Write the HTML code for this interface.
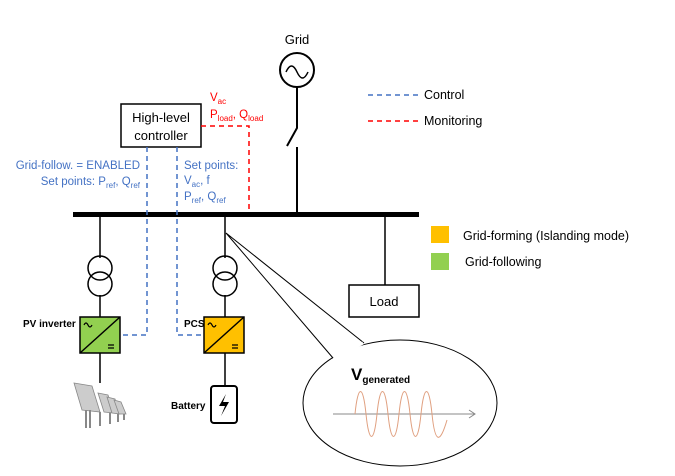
<!DOCTYPE html>
<html><head><meta charset="utf-8"><style>body{margin:0;background:#fff}svg{display:block;font-family:"Liberation Sans",sans-serif}</style></head><body>
<svg width="675" height="476" viewBox="0 0 675 476" xmlns="http://www.w3.org/2000/svg">
<text x="297" y="44" font-size="13" text-anchor="middle">Grid</text>
<circle cx="297" cy="70" r="17" fill="none" stroke="#000" stroke-width="2"/>
<path d="M286 72 q5.5 -12 11 0 t11 0" fill="none" stroke="#000" stroke-width="1.5"/>
<path d="M297 87 V128 L287 146 M297 147 V214" stroke="#000" stroke-width="2" fill="none"/>
<rect x="73" y="212" width="346" height="5" fill="#000"/>
<rect x="121" y="104" width="80" height="43" fill="#fff" stroke="#000" stroke-width="1.5"/>
<text x="161" y="122" font-size="13" text-anchor="middle">High-level</text>
<text x="161" y="140" font-size="13" text-anchor="middle">controller</text>
<g stroke="#4472c4" stroke-width="1.5" stroke-dasharray="5,4" fill="none">
<path d="M147 147 V335 H120"/><path d="M177 147 V335 H204"/>
<path d="M368 95 H419"/></g>
<g stroke="#ff0000" stroke-width="1.5" stroke-dasharray="5,4" fill="none">
<path d="M201 126 H249 V212"/><path d="M368 121 H419"/></g>
<g fill="#ff0000" font-size="11.5"><text x="210" y="101">V<tspan font-size="8" dy="3">ac</tspan></text>
<text x="210" y="118">P<tspan font-size="8" dy="3">load</tspan><tspan dy="-3">, Q</tspan><tspan font-size="8" dy="3">load</tspan></text></g>
<g fill="#4472c4" font-size="11.5"><text x="140" y="169" text-anchor="end">Grid-follow. = ENABLED</text>
<text x="140" y="185" text-anchor="end">Set points: P<tspan font-size="8" dy="3">ref</tspan><tspan dy="-3">, Q</tspan><tspan font-size="8" dy="3">ref</tspan></text>
<text x="184" y="169">Set points:</text>
<text x="184" y="184">V<tspan font-size="8" dy="3">ac</tspan><tspan dy="-3">, f</tspan></text>
<text x="184" y="200">P<tspan font-size="8" dy="3">ref</tspan><tspan dy="-3">, Q</tspan><tspan font-size="8" dy="3">ref</tspan></text></g>
<text x="424" y="99" font-size="12.5">Control</text>
<text x="424" y="125" font-size="12.5">Monitoring</text>
<rect x="431" y="226" width="18" height="17" fill="#ffc000"/>
<text x="463" y="240" font-size="12.5">Grid-forming (Islanding mode)</text>
<rect x="431" y="253" width="18" height="17" fill="#92d050"/>
<text x="465" y="266" font-size="12.5">Grid-following</text>
<g stroke="#000" stroke-width="1.5" fill="none">
<path d="M100 217 V258 M100 295 V317 M100 353 V383"/>
<circle cx="100" cy="268" r="12"/><circle cx="100" cy="284" r="12"/>
<path d="M225 217 V258 M225 295 V317 M225 353 V385"/>
<circle cx="225" cy="268" r="12"/><circle cx="225" cy="284" r="12"/>
<path d="M385 217 V285"/>
</g>
<rect x="80" y="317" width="40" height="36" fill="#92d050" stroke="#000" stroke-width="1.5"/>
<path d="M80 353 L120 317" stroke="#000" stroke-width="1.5"/>
<rect x="204" y="317" width="40" height="36" fill="#ffc000" stroke="#000" stroke-width="1.5"/>
<path d="M204 353 L244 317" stroke="#000" stroke-width="1.5"/>
<g stroke="#000" stroke-width="1.2" fill="none">
<path d="M84 325 q2 -4 4 0 t4 0"/><path d="M108 345 h6 M108 348 h6"/>
<path d="M208 325 q2 -4 4 0 t4 0"/><path d="M232 345 h6 M232 348 h6"/></g>
<text x="23" y="327" font-size="10" font-weight="bold">PV inverter</text>
<text x="184" y="327" font-size="10" font-weight="bold">PCS</text>
<text x="171" y="409" font-size="10" font-weight="bold">Battery</text>
<rect x="211" y="386" width="26" height="37" rx="3" fill="#fff" stroke="#000" stroke-width="2"/>
<path d="M226 394 L219 406 H225 L221 416 L229 402 H223 Z" fill="#000"/>
<g fill="#ccc" stroke="#888" stroke-width="0.8">
<path d="M74 383 L92 386 L100 412 L82 410 Z"/><path d="M98 393 L108 395 L114 413 L104 412Z"/>
<path d="M107 397 L115 399 L120 414 L112 413Z"/><path d="M114 400 L121 402 L126 414 L119 414Z"/></g>
<path d="M90 410 V428 M86 410 V428 M100 412 V426 M110 413 V424 M118 414 V422 M124 414 V420" stroke="#888" stroke-width="2"/>
<rect x="349" y="285" width="70" height="32" fill="#fff" stroke="#000" stroke-width="1.5"/>
<text x="384" y="306" font-size="13" text-anchor="middle">Load</text>
<ellipse cx="400" cy="403" rx="97" ry="63" fill="#fff" stroke="#000" stroke-width="1"/>
<path d="M333 358 L226 233 L364 343" fill="#fff" stroke="#000" stroke-width="1"/>
<path d="M334 358 L363 343" stroke="#fff" stroke-width="3"/>
<text x="351" y="380" font-size="17" font-weight="bold">V<tspan font-size="10" dy="3">generated</tspan></text>
<path d="M333 414 H475 M469 410 L475 414 L469 418" stroke="#888" stroke-width="1" fill="none"/>
<path d="M355 414 C358 384,363 384,366 414 S374 444,377 414 S385 384,388 414 S396 444,399 414 S407 384,410 414 S418 444,421 414 S429 384,432 414 S440 444,447 420" stroke="#e0a080" stroke-width="1" fill="none"/>
</svg>
</body></html>
